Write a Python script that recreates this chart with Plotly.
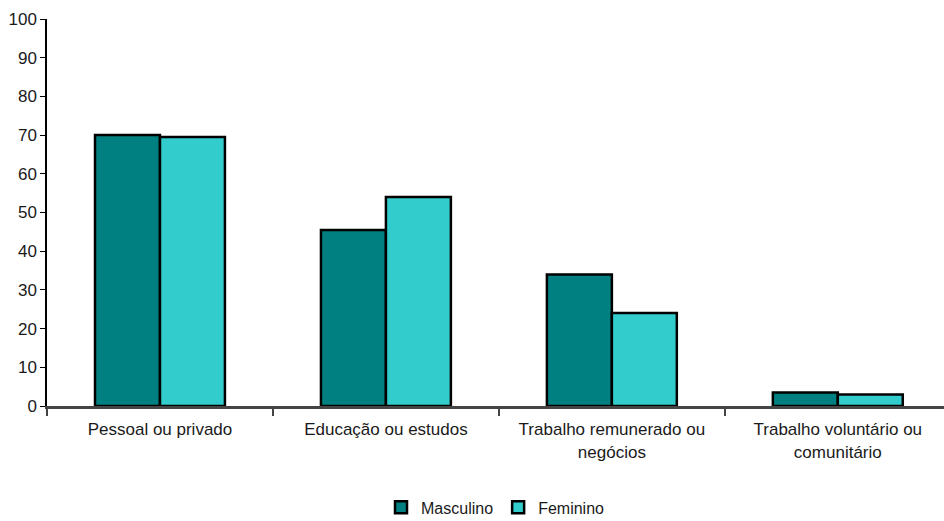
import plotly.graph_objects as go

categories = [
    "Pessoal ou privado",
    "Educação ou estudos",
    "Trabalho remunerado ou<br>negócios",
    "Trabalho voluntário ou<br>comunitário",
]
masculino = [70, 45.5, 34, 3.5]
feminino = [69.5, 54, 24, 3]
y_ticks = [0, 10, 20, 30, 40, 50, 60, 70, 80, 90, 100]

font_family = "Liberation Sans, Arial, sans-serif"

fig = go.Figure()
fig.add_trace(go.Bar(
    name="Masculino", x=categories, y=masculino,
    marker=dict(color="#008080", line=dict(color="#000000", width=2.5)),
))
fig.add_trace(go.Bar(
    name="Feminino", x=categories, y=feminino,
    marker=dict(color="#33CCCC", line=dict(color="#000000", width=2.5)),
))

fig.update_layout(
    width=944, height=521,
    margin=dict(l=47, r=0, t=19, b=115, autoexpand=False),
    paper_bgcolor="white", plot_bgcolor="white",
    barmode="group", bargap=0.425, bargroupgap=0,
    font=dict(family=font_family, size=17, color="#1a1a1a"),
    showlegend=True,
    legend=dict(
        orientation="h", x=0.5, xanchor="center", y=-0.262, yanchor="middle",
        font=dict(size=16, color="#1a1a1a"), itemwidth=30,
        traceorder="normal", tracegroupgap=0,
    ),
    xaxis=dict(
        range=[-0.5, 3.47],
        showline=True, linecolor="#444444", linewidth=3,
        ticks="outside", tickson="boundaries", ticklen=7, tickcolor="#444444",
        tickwidth=1.5, showgrid=False, zeroline=False, automargin=False,
        ticklabelstandoff=6,
        tickfont=dict(size=17, color="#1a1a1a"),
    ),
    yaxis=dict(
        range=[0, 100], tickvals=y_ticks,
        showline=True, linecolor="#000000", linewidth=1.5,
        ticks="outside", ticklen=5, tickcolor="#000000",
        showgrid=False, zeroline=False, automargin=False,
        tickfont=dict(size=17, color="#1a1a1a"),
    ),
)

fig.write_html("out.html")
